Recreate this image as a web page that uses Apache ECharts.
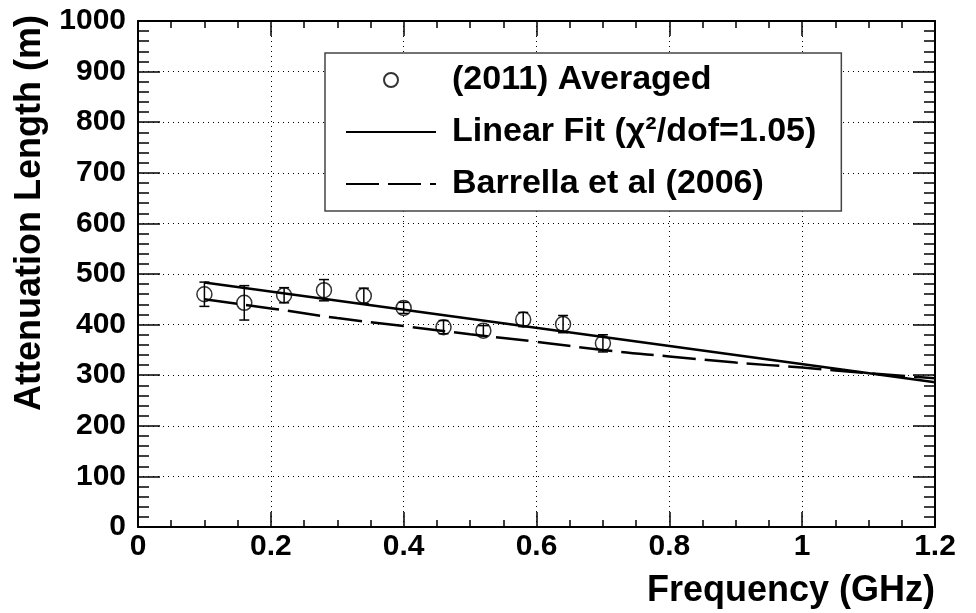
<!DOCTYPE html>
<html>
<head>
<meta charset="utf-8">
<script src="https://cdn.jsdelivr.net/npm/echarts@6/dist/echarts.min.js"></script>
<style>
html,body{margin:0;padding:0;background:#fff;}
#chart{width:976px;height:613px;}
</style>
</head>
<body>
<div id="chart"></div>
<script>
// Measured (2011) averaged attenuation lengths
var freq  = [0.10, 0.16, 0.22, 0.28, 0.34, 0.40, 0.46, 0.52, 0.58, 0.64, 0.70];
var atten = [460, 443, 458, 468, 457, 433, 395, 388, 410, 401, 363];
var errs  = [24, 34, 15, 21, 15, 11, 13, 10, 14, 17, 17];
// Linear fit end points
var fitX = [0.10, 1.20];
var fitY = [483, 286];
// Barrella et al (2006) curve
var barX = [0.10, 0.20, 0.30, 0.40, 0.50, 0.60, 0.70, 0.80, 0.90, 1.00, 1.10, 1.20];
var barY = [450, 432, 413, 397, 381, 366, 350, 337, 325, 315, 304, 294];
// Axis ticks
var xTicks = [0, 0.2, 0.4, 0.6, 0.8, 1, 1.2];
var yTicks = [0, 100, 200, 300, 400, 500, 600, 700, 800, 900, 1000];

var names = ['(2011) Averaged', 'Linear Fit (\u03C7\u00B2/dof=1.05)', 'Barrella et al (2006)'];
var FONT = 'Liberation Sans';

function zip(a, b, c) {
  return a.map(function (v, i) { return c ? [v, b[i], c[i]] : [v, b[i]]; });
}

var chart = echarts.init(document.getElementById('chart'), null, {renderer: 'canvas'});

var baseX = {
  type: 'value', min: xTicks[0], max: xTicks[xTicks.length - 1], interval: 0.2
};
var baseY = {
  type: 'value', min: yTicks[0], max: yTicks[yTicks.length - 1], interval: 100
};

var option = {
  animation: false,
  backgroundColor: '#fff',
  grid: {left: 138, right: 41, top: 21, bottom: 86},
  xAxis: [
    Object.assign({}, baseX, {
      position: 'bottom',
      axisLine: {show: true, onZero: false, lineStyle: {color: '#000', width: 2}},
      axisTick: {show: true, inside: true, length: 15, lineStyle: {color: '#000', width: 1.5}},
      minorTick: {show: true, splitNumber: 4, length: 7, lineStyle: {color: '#000', width: 1.5}},
      axisLabel: {
        show: true, margin: 5, color: '#000', fontFamily: FONT, fontWeight: 'bold', fontSize: 30,
        formatter: function (v) { return String(Math.round(v * 10) / 10); }
      },
      splitLine: {show: true, lineStyle: {color: '#000', width: 1, type: [1, 4]}}
    }),
    Object.assign({}, baseX, {
      position: 'top',
      axisLine: {show: true, onZero: false, lineStyle: {color: '#000', width: 2}},
      axisTick: {show: true, inside: true, length: 15, lineStyle: {color: '#000', width: 1.5}},
      minorTick: {show: true, splitNumber: 4, length: 7, lineStyle: {color: '#000', width: 1.5}},
      axisLabel: {show: false},
      splitLine: {show: false}
    })
  ],
  yAxis: [
    Object.assign({}, baseY, {
      position: 'left',
      axisLine: {show: true, onZero: false, lineStyle: {color: '#000', width: 2}},
      axisTick: {show: true, inside: true, length: 22, lineStyle: {color: '#000', width: 1.5}},
      minorTick: {show: true, splitNumber: 5, length: 11, lineStyle: {color: '#000', width: 1.5}},
      axisLabel: {
        show: true, margin: 12, color: '#000', fontFamily: FONT, fontWeight: 'bold', fontSize: 30,
        formatter: function (v) { return String(v); }
      },
      splitLine: {show: true, lineStyle: {color: '#000', width: 1, type: [1, 4]}}
    }),
    Object.assign({}, baseY, {
      position: 'right',
      axisLine: {show: true, onZero: false, lineStyle: {color: '#000', width: 2}},
      axisTick: {show: true, inside: true, length: 22, lineStyle: {color: '#000', width: 1.5}},
      minorTick: {show: true, splitNumber: 5, length: 11, lineStyle: {color: '#000', width: 1.5}},
      axisLabel: {show: false},
      splitLine: {show: false}
    })
  ],
  legend: {
    data: [
      {name: names[0]},
      {name: names[1], itemStyle: {opacity: 0}},
      {name: names[2], itemStyle: {opacity: 0}}
    ],
    orient: 'vertical',
    left: 325, top: 53,
    padding: [9, 25, 9, 20],
    itemGap: 16,
    itemWidth: 90,
    itemHeight: 14,
    borderColor: '#444',
    borderWidth: 1.5,
    backgroundColor: '#fff',
    selectedMode: false,
    textStyle: {
      color: '#000', fontFamily: FONT, fontWeight: 'bold', fontSize: 34,
      lineHeight: 36, padding: [0, 0, 0, 11]
    }
  },
  graphic: [
    {
      type: 'text', x: 935, y: 591,
      style: {text: 'Frequency (GHz)', fill: '#000', font: 'bold 36px "Liberation Sans"',
              align: 'right', verticalAlign: 'middle'}
    },
    {
      type: 'text', x: 30, y: 15, rotation: Math.PI / 2,
      style: {text: 'Attenuation Length (m)', fill: '#000', font: 'bold 36px "Liberation Sans"',
              align: 'right', verticalAlign: 'middle'}
    }
  ],
  series: [
    {
      name: names[2], type: 'line', smooth: true, symbol: 'none', showSymbol: false,
      data: zip(barX, barY),
      lineStyle: {color: '#000', width: 2.5, type: [33, 9]},
      itemStyle: {color: '#000'},
      z: 2
    },
    {
      name: names[1], type: 'line', symbol: 'none', showSymbol: false,
      data: zip(fitX, fitY),
      lineStyle: {color: '#000', width: 2.5, type: 'solid'},
      itemStyle: {color: '#000'},
      z: 3
    },
    {
      name: 'errors', type: 'custom',
      data: zip(freq, atten, errs),
      renderItem: function (params, api) {
        var x = api.value(0), y = api.value(1), e = api.value(2);
        var top = api.coord([x, y + e]);
        var bot = api.coord([x, y - e]);
        var cap = 5;
        var st = {stroke: '#000', lineWidth: 1.5};
        return {
          type: 'group',
          children: [
            {type: 'line', shape: {x1: top[0], y1: top[1], x2: bot[0], y2: bot[1]}, style: st},
            {type: 'line', shape: {x1: top[0] - cap, y1: top[1], x2: top[0] + cap, y2: top[1]}, style: st},
            {type: 'line', shape: {x1: bot[0] - cap, y1: bot[1], x2: bot[0] + cap, y2: bot[1]}, style: st}
          ]
        };
      },
      z: 4
    },
    {
      name: names[0], type: 'scatter',
      data: zip(freq, atten),
      symbol: 'circle', symbolSize: 15,
      itemStyle: {color: 'rgba(255,255,255,0)', borderColor: '#000', borderWidth: 1.5},
      z: 5
    }
  ]
};
chart.setOption(option);
</script>
</body>
</html>
